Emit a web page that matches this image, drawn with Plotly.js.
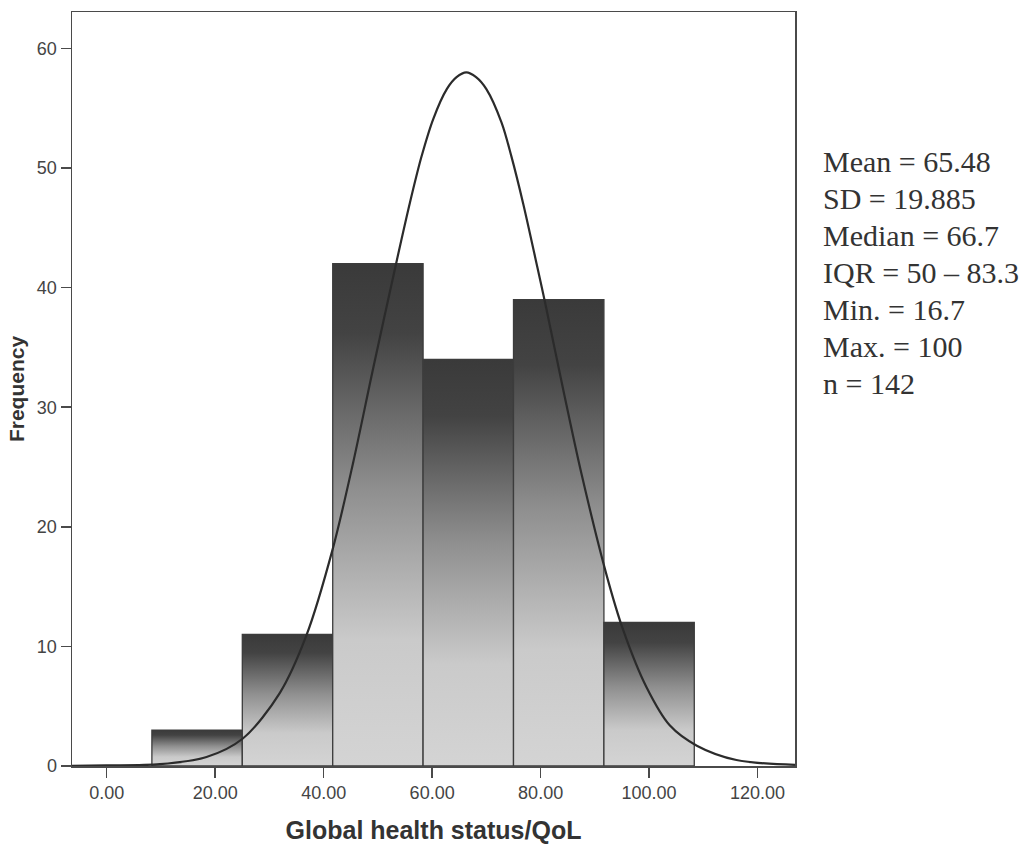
<!DOCTYPE html>
<html>
<head>
<meta charset="utf-8">
<script src="https://cdn.plot.ly/plotly-3.0.1.min.js"></script>
<style>
  html, body { margin: 0; padding: 0; background: #ffffff; }
  #chart { width: 1032px; height: 844px; }
</style>
</head>
<body>
<div id="chart"></div>
<script>
// ---- data ----
const binStart = [8.33, 25.00, 41.67, 58.33, 75.00, 91.67];
const binEnd   = [25.00, 41.67, 58.33, 75.00, 91.67, 108.33];
const counts   = [3, 11, 42, 34, 39, 12];

const curveX = [-6.4, 0, 9.8, 18.4, 25.1, 31.9, 36.8, 41.7, 45.4, 49.1, 53.3, 55.9, 58.0, 60.2, 62.7, 64.5,
                66.3, 68.1, 70.0, 72.8, 74.6, 76.8, 79.4, 80.8, 84.2, 87.5, 92.2, 95.2, 99.5, 103.8, 108.8, 116.1, 126.9];
const curveY = [0.02, 0.05, 0.15, 0.75, 2.3, 6.1, 10.9, 18.2, 25.3, 33.2, 41.9, 47.1, 50.9, 54.1, 56.6, 57.6,
                58.0, 57.6, 56.6, 53.8, 51.0, 47.0, 41.7, 38.8, 31.4, 24.5, 15.9, 11.4, 6.6, 3.4, 1.7, 0.5, 0.1];

const xTickVals = [0, 20, 40, 60, 80, 100, 120];
const xTickText = ['0.00', '20.00', '40.00', '60.00', '80.00', '100.00', '120.00'];
const yTickVals = [0, 10, 20, 30, 40, 50, 60];

const statLines = ['Mean = 65.48', 'SD = 19.885', 'Median = 66.7', 'IQR = 50 \u2013 83.3',
                   'Min. = 16.7', 'Max. = 100', 'n = 142'];

const xTitle = 'Global health status/QoL';
const yTitle = 'Frequency';

// ---- styling ----
const gradScale = [[0, '#d4d4d4'], [0.25, '#cacaca'], [0.55, '#8f8f8f'], [0.86, '#434343'], [1, '#3a3a3a']];
const edgeColor = '#3c3c3c';
const axisColor = '#4a4a4a';

const traces = [];
counts.forEach(function (c, i) {
  traces.push({
    type: 'scatter',
    mode: 'lines',
    x: [binStart[i], binStart[i], binEnd[i], binEnd[i], binStart[i]],
    y: [0, c, c, 0, 0],
    fill: 'toself',
    fillgradient: { type: 'vertical', colorscale: gradScale },
    line: { color: edgeColor, width: 1.3 },
    hoverinfo: 'skip',
    showlegend: false
  });
});

traces.push({
  type: 'scatter',
  mode: 'lines',
  x: curveX,
  y: curveY,
  line: { color: '#2b2b2b', width: 2.2, shape: 'spline', smoothing: 0.9 },
  hoverinfo: 'skip',
  showlegend: false
});

// layout geometry
const M = { l: 72, r: 237, t: 12, b: 78 };
const plotH = 844 - M.t - M.b;
const plotW = 1032 - M.l - M.r;

const annotations = statLines.map(function (txt, i) {
  const baseline = 171.5 + 37 * i;
  const centerPx = baseline - 10;
  return {
    text: txt,
    xref: 'paper', yref: 'paper',
    x: (821 - M.l) / plotW,
    y: (844 - M.b - centerPx) / plotH,
    xanchor: 'left', yanchor: 'middle',
    showarrow: false,
    font: { family: '"Liberation Serif", "Times New Roman", serif', size: 30, color: '#333333' }
  };
});

const layout = {
  width: 1032,
  height: 844,
  margin: M,
  paper_bgcolor: '#ffffff',
  plot_bgcolor: '#ffffff',
  showlegend: false,
  xaxis: {
    range: [-6.4, 126.9],
    tickvals: xTickVals,
    ticktext: xTickText,
    ticks: 'outside',
    ticklen: 10,
    tickwidth: 1.5,
    tickcolor: axisColor,
    showline: true,
    linecolor: axisColor,
    linewidth: 1.5,
    mirror: true,
    showgrid: false,
    zeroline: false,
    tickfont: { family: '"Liberation Sans", Arial, sans-serif', size: 18, color: '#444444' },
    title: {
      text: xTitle,
      standoff: 22,
      font: { family: '"Liberation Sans", Arial, sans-serif', size: 25, color: '#333333', weight: 'bold' }
    }
  },
  yaxis: {
    range: [0, 63.05],
    tickvals: yTickVals,
    ticks: 'outside',
    ticklen: 10,
    tickwidth: 1.5,
    tickcolor: axisColor,
    showline: true,
    linecolor: axisColor,
    linewidth: 1.5,
    mirror: true,
    showgrid: false,
    zeroline: false,
    tickfont: { family: '"Liberation Sans", Arial, sans-serif', size: 18, color: '#444444' },
    title: {
      text: yTitle,
      standoff: 6,
      font: { family: '"Liberation Sans", Arial, sans-serif', size: 21, color: '#333333', weight: 'bold' }
    }
  },
  annotations: annotations
};

Plotly.newPlot('chart', traces, layout, { displayModeBar: false, staticPlot: true });
</script>
</body>
</html>
